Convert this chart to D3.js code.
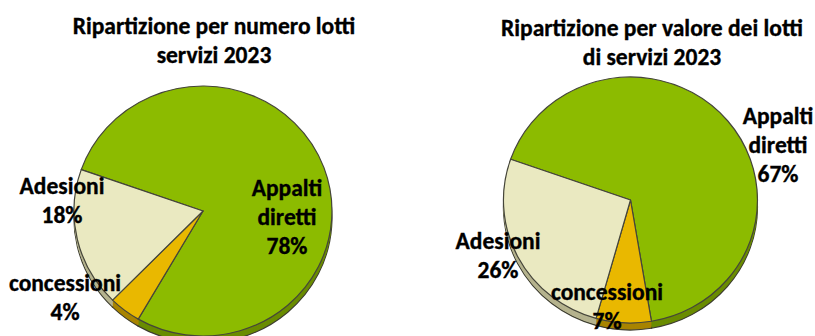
<!DOCTYPE html>
<html>
<head>
<meta charset="utf-8">
<script src="https://cdn.jsdelivr.net/npm/d3@7/dist/d3.min.js"></script>
<style>
  html, body { margin: 0; padding: 0; background: #ffffff; }
  svg { display: block; }
  text { font-family: Carlito, Lato, "Open Sans", sans-serif; font-weight: 700; fill: #000;
         stroke: #000; stroke-width: 0.35px; }
</style>
</head>
<body>
<svg id="chart" width="815" height="336"></svg>
<script>
// Slice order as stored in the workbook: Appalti diretti, concessioni, Adesioni
const categories = ["Appalti diretti", "concessioni", "Adesioni"];
const labelLines = [["Appalti", "diretti"], ["concessioni"], ["Adesioni"]];
const quotaNumero = [78, 4, 18];   // % of lots by count
const quotaValore = [67, 7, 26];   // % of lots by value
const titoloNumero = ["Ripartizione per numero lotti", "servizi 2023"];
const titoloValore = ["Ripartizione per valore dei lotti", "di servizi 2023"];

const topColors  = ["#8cbb00", "#e9b800", "#eae9c1"];
const sideColors = ["#6a8c00", "#a88400", "#b5b38e"];

const svg = d3.select("#chart");
const firstSliceDeg = 289.3;
const depth = 7;
const fontSize = "23.5px";

function drawPie(cfg) {
  const g = svg.append("g");
  const pie = d3.pie().sort(null)
    .startAngle(firstSliceDeg * Math.PI / 180)
    .endAngle(firstSliceDeg * Math.PI / 180 + 2 * Math.PI);
  const arcs = pie(cfg.values);
  const arc = d3.arc().innerRadius(0).outerRadius(1);

  // side wall of the tilted pie
  const side = g.append("g")
    .attr("transform", `translate(${cfg.cx},${cfg.cy + depth}) scale(${cfg.rx},${cfg.ry})`);
  side.selectAll("path").data(arcs).join("path")
    .attr("d", arc)
    .attr("fill", (d, i) => sideColors[i])
    .attr("stroke", "#3e3e30")
    .attr("stroke-width", 1.2)
    .attr("vector-effect", "non-scaling-stroke");
  // fill the band between the bottom face and the top face
  for (let k = depth - 1; k > 0; k--) {
    g.append("g")
      .attr("transform", `translate(${cfg.cx},${cfg.cy + k}) scale(${cfg.rx},${cfg.ry})`)
      .selectAll("path").data(arcs).join("path")
      .attr("d", arc)
      .attr("fill", (d, i) => sideColors[i]);
  }

  // top face
  const top = g.append("g")
    .attr("transform", `translate(${cfg.cx},${cfg.cy}) scale(${cfg.rx},${cfg.ry})`);
  top.selectAll("path").data(arcs).join("path")
    .attr("d", arc)
    .attr("fill", (d, i) => topColors[i])
    .attr("stroke", "#45453a")
    .attr("stroke-width", 1.2)
    .attr("stroke-linejoin", "round")
    .attr("vector-effect", "non-scaling-stroke");

  // title
  const t = svg.append("text")
    .attr("text-anchor", "middle")
    .style("font-size", fontSize);
  cfg.title.forEach((line, j) => {
    t.append("tspan").attr("x", cfg.titleX).attr("y", cfg.titleY + j * 29).text(line);
  });

  // data labels
  arcs.forEach((d, i) => {
    const p = cfg.labels[i];
    const lines = labelLines[i].concat([d3.format(".0f")(d.data) + "%"]);
    const lt = svg.append("text")
      .attr("text-anchor", "middle")
      .style("font-size", fontSize);
    lines.forEach((line, j) => {
      lt.append("tspan").attr("x", p[0]).attr("y", p[1] + j * 28.8).text(line);
    });
  });
}

drawPie({
  values: quotaNumero, title: titoloNumero,
  cx: 203, cy: 211, rx: 129, ry: 125,
  titleX: 214, titleY: 34,
  labels: [[287, 196], [65, 291], [62, 194]]
});

drawPie({
  values: quotaValore, title: titoloValore,
  cx: 630.5, cy: 200, rx: 127, ry: 123,
  titleX: 652, titleY: 36,
  labels: [[778, 124], [607, 300], [498, 249]]
});
</script>
</body>
</html>
